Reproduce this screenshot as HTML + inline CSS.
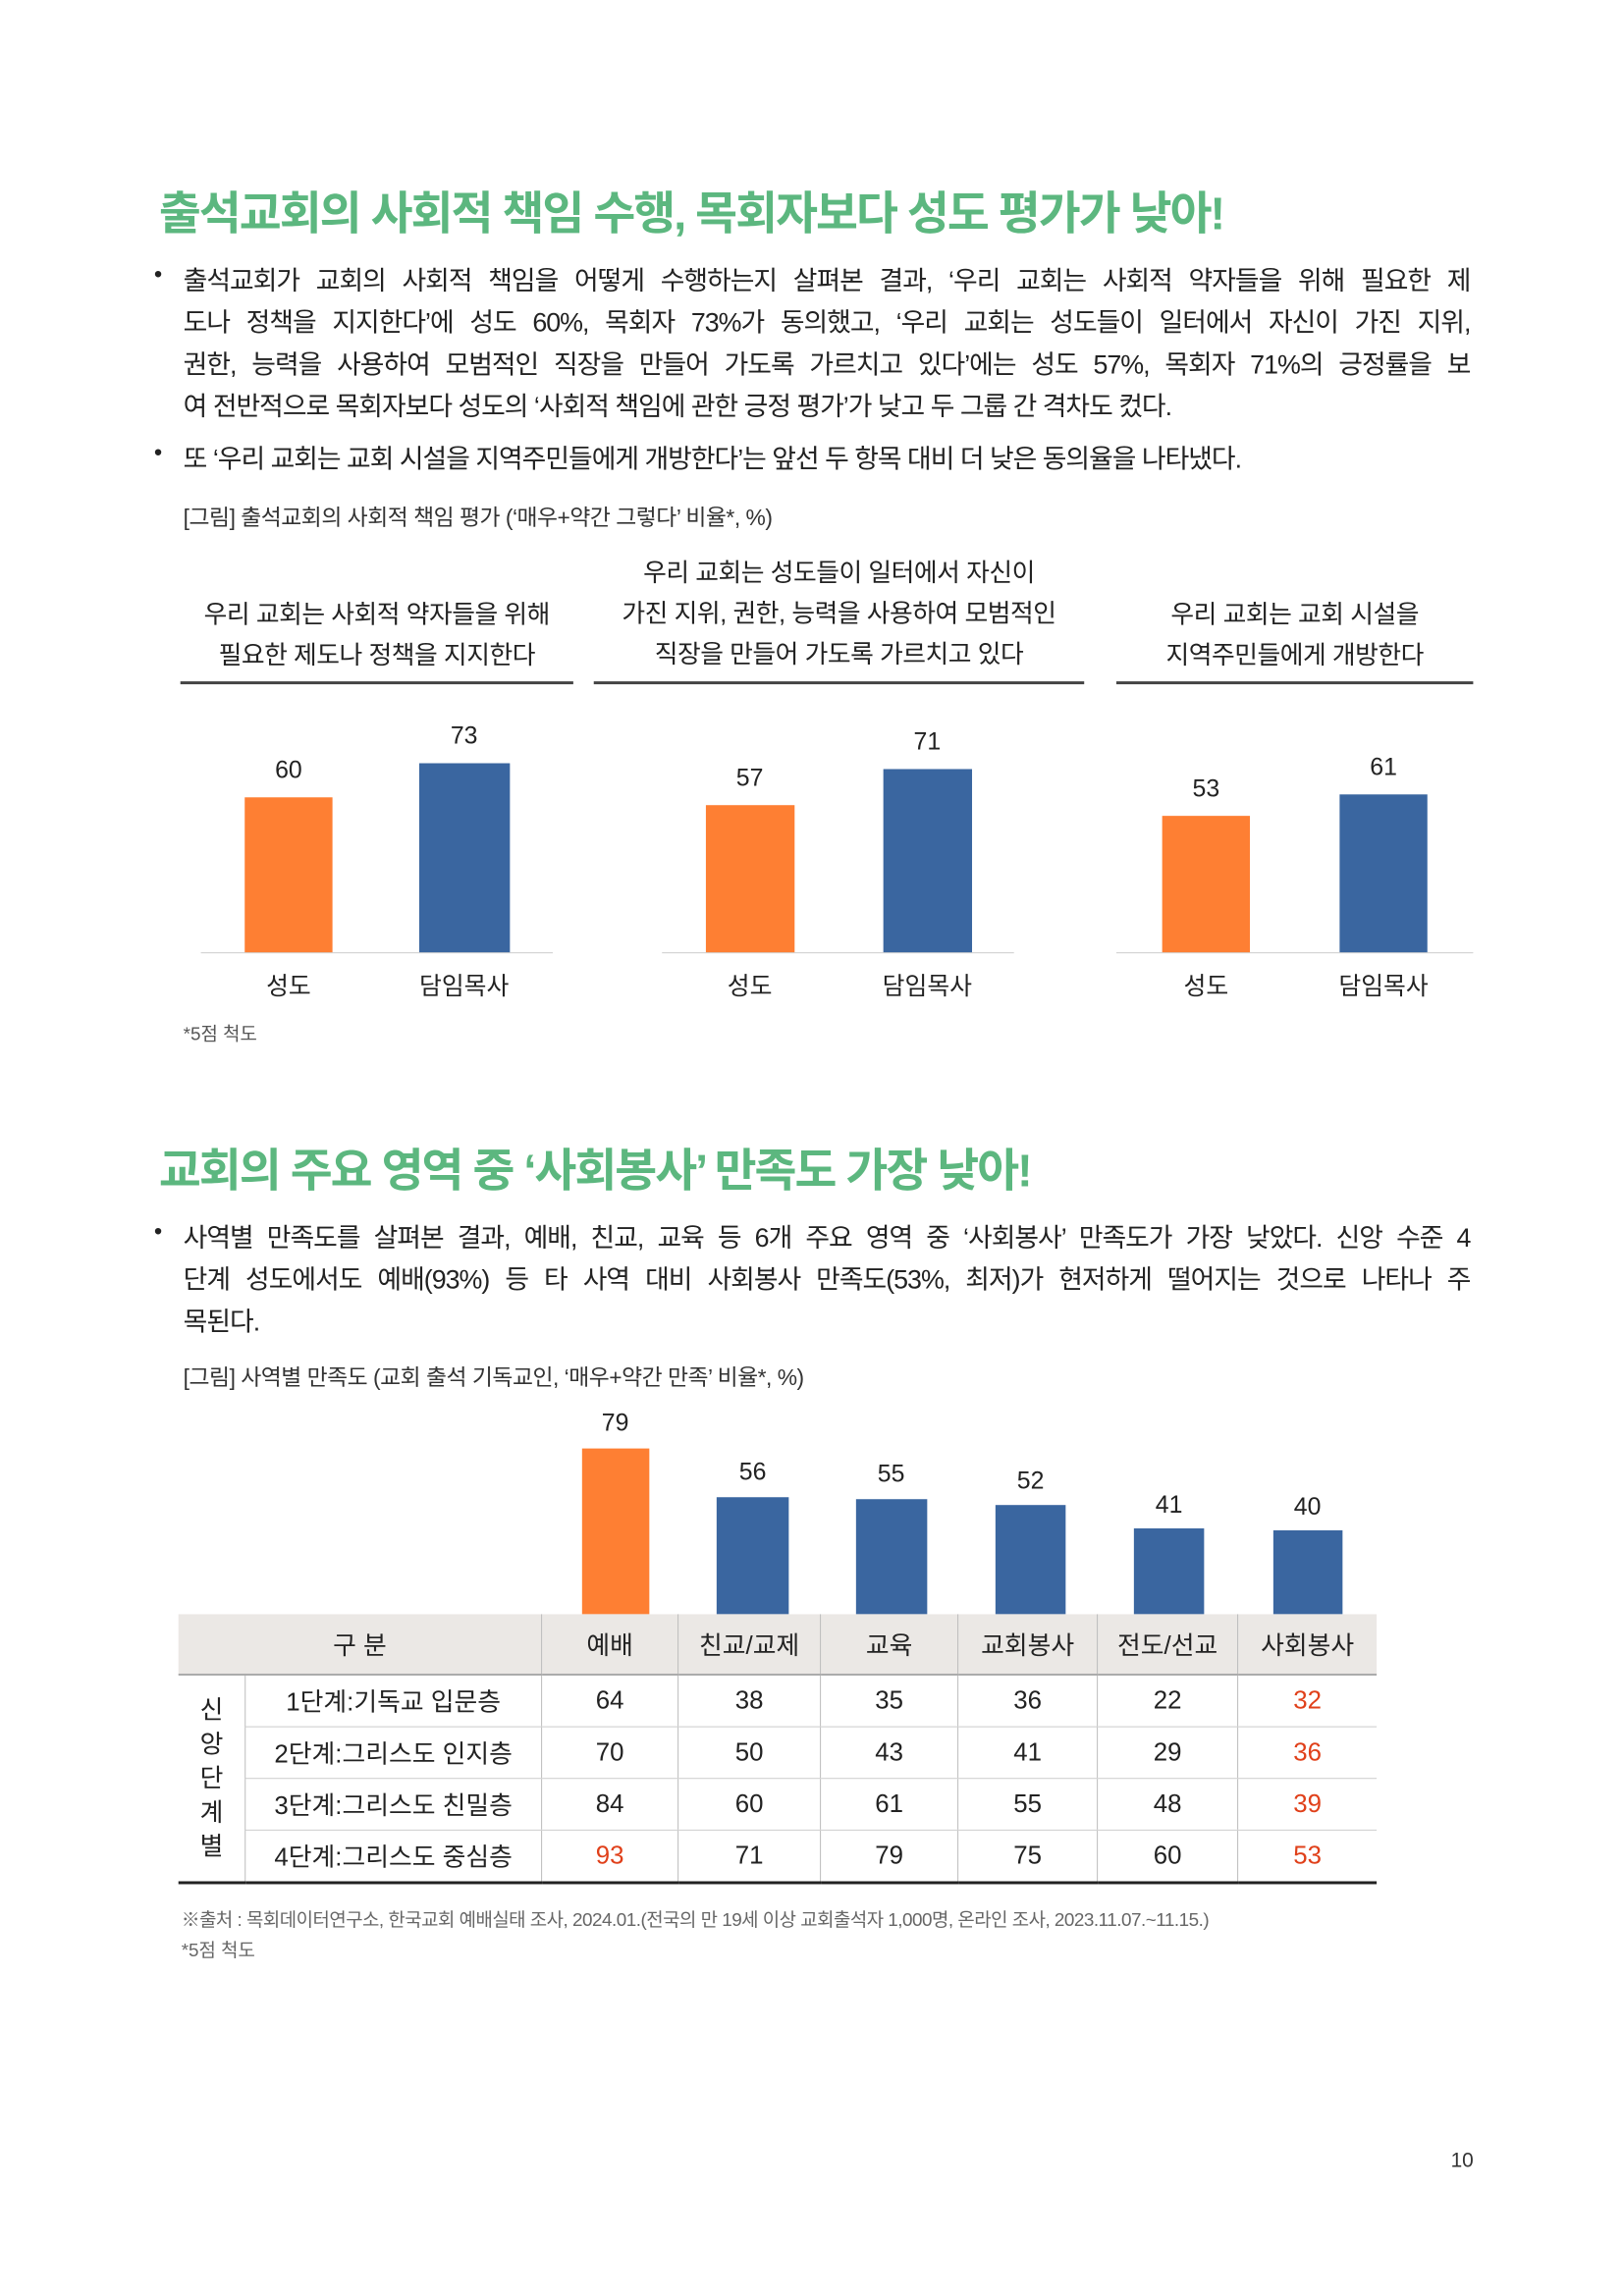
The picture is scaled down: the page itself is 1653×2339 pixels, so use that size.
<!DOCTYPE html>
<html><head><meta charset="utf-8"><style>
body{margin:0;background:#fff;}
#w{width:1653px;height:2339px;overflow:hidden;position:relative;}
#p{position:relative;width:1653px;height:2339px;font-family:"Liberation Sans","Noto Sans CJK KR",sans-serif;color:#222;transform:scale(0.993);transform-origin:0 0;}
.a{position:absolute;white-space:nowrap;}
.t{font-weight:bold;color:#5cb77f;font-size:47px;letter-spacing:-2px;}
.l{font-size:27px;width:1320px;left:188px;text-align:justify;text-align-last:justify;letter-spacing:-1px;}
.l.n{text-align-last:left;}
.bul{font-size:24px;left:158px;}
.cap{font-size:23px;color:#333;left:188px;letter-spacing:-0.5px;}
.h{font-size:26px;text-align:center;line-height:42px;letter-spacing:-0.5px;}
.hl{position:absolute;height:3px;background:#444;}
.bl{position:absolute;height:1px;background:#ccc;}
.bar{position:absolute;}
.o{background:#fe7f33;}.b{background:#3a66a0;}
.v{font-size:25px;text-align:center;width:120px;}
.c{font-size:25px;text-align:center;width:160px;}
table{position:absolute;left:183px;top:1656px;border-collapse:collapse;font-size:26px;}
td{text-align:center;padding:0;border-left:1px solid #bbb;border-bottom:1px solid #ccc;}
tr.hd td{background:#ebe8e5;height:61px;border-bottom:2px solid #aaa;}
.r{color:#e0401a;}
</style></head><body><div id="w"><div id="p">
<div class="a t" style="left:163px;top:180px;">출석교회의 사회적 책임 수행, 목회자보다 성도 평가가 낮아!</div>
<div class="a bul" style="top:268px;">•</div>
<div class="a l" style="top:266px;">출석교회가 교회의 사회적 책임을 어떻게 수행하는지 살펴본 결과, ‘우리 교회는 사회적 약자들을 위해 필요한 제</div>
<div class="a l" style="top:309px;">도나 정책을 지지한다’에 성도 60%, 목회자 73%가 동의했고, ‘우리 교회는 성도들이 일터에서 자신이 가진 지위,</div>
<div class="a l" style="top:352px;">권한, 능력을 사용하여 모범적인 직장을 만들어 가도록 가르치고 있다’에는 성도 57%, 목회자 71%의 긍정률을 보</div>
<div class="a l n" style="top:395px;">여 전반적으로 목회자보다 성도의 ‘사회적 책임에 관한 긍정 평가’가 낮고 두 그룹 간 격차도 컸다.</div>
<div class="a bul" style="top:451px;">•</div>
<div class="a l n" style="top:449px;">또 ‘우리 교회는 교회 시설을 지역주민들에게 개방한다’는 앞선 두 항목 대비 더 낮은 동의율을 나타냈다.</div>
<div class="a cap" style="top:512px;">[그림] 출석교회의 사회적 책임 평가 (‘매우+약간 그렇다’ 비율*, %)</div>

<div class="a h" style="left:185px;width:403px;top:609px;">우리 교회는 사회적 약자들을 위해<br>필요한 제도나 정책을 지지한다</div>
<div class="a h" style="left:609px;width:503px;top:566px;">우리 교회는 성도들이 일터에서 자신이<br>가진 지위, 권한, 능력을 사용하여 모범적인<br>직장을 만들어 가도록 가르치고 있다</div>
<div class="a h" style="left:1145px;width:366px;top:609px;">우리 교회는 교회 시설을<br>지역주민들에게 개방한다</div>
<div class="hl" style="left:185px;width:403px;top:699px;"></div>
<div class="hl" style="left:609px;width:503px;top:699px;"></div>
<div class="hl" style="left:1145px;width:366px;top:699px;"></div>

<div class="bl" style="left:206px;width:361px;top:977px;"></div>
<div class="bl" style="left:679px;width:361px;top:977px;"></div>
<div class="bl" style="left:1145px;width:366px;top:977px;"></div>
<div class="bar o" style="left:251px;width:90px;top:818px;height:159px;"></div>
<div class="bar b" style="left:430px;width:93px;top:783px;height:194px;"></div>
<div class="bar o" style="left:724px;width:91px;top:826px;height:151px;"></div>
<div class="bar b" style="left:906px;width:91px;top:789px;height:188px;"></div>
<div class="bar o" style="left:1192px;width:90px;top:837px;height:140px;"></div>
<div class="bar b" style="left:1374px;width:90px;top:815px;height:162px;"></div>
<div class="a v" style="left:236px;top:776px;">60</div>
<div class="a v" style="left:416px;top:741px;">73</div>
<div class="a v" style="left:709px;top:784px;">57</div>
<div class="a v" style="left:891px;top:747px;">71</div>
<div class="a v" style="left:1177px;top:795px;">53</div>
<div class="a v" style="left:1359px;top:773px;">61</div>
<div class="a c" style="left:216px;top:992px;">성도</div>
<div class="a c" style="left:396px;top:992px;">담임목사</div>
<div class="a c" style="left:689px;top:992px;">성도</div>
<div class="a c" style="left:871px;top:992px;">담임목사</div>
<div class="a c" style="left:1157px;top:992px;">성도</div>
<div class="a c" style="left:1339px;top:992px;">담임목사</div>
<div class="a" style="left:188px;top:1046px;font-size:19px;color:#555;">*5점 척도</div>

<div class="a t" style="left:163px;top:1162px;">교회의 주요 영역 중 ‘사회봉사’ 만족도 가장 낮아!</div>
<div class="a bul" style="top:1250px;">•</div>
<div class="a l" style="top:1248px;">사역별 만족도를 살펴본 결과, 예배, 친교, 교육 등 6개 주요 영역 중 ‘사회봉사’ 만족도가 가장 낮았다. 신앙 수준 4</div>
<div class="a l" style="top:1291px;">단계 성도에서도 예배(93%) 등 타 사역 대비 사회봉사 만족도(53%, 최저)가 현저하게 떨어지는 것으로 나타나 주</div>
<div class="a l n" style="top:1334px;">목된다.</div>
<div class="a cap" style="top:1394px;">[그림] 사역별 만족도 (교회 출석 기독교인, ‘매우+약간 만족’ 비율*, %)</div>

<div class="bar o" style="left:597px;width:69px;top:1486px;height:170px;"></div>
<div class="bar b" style="left:735px;width:74px;top:1536px;height:120px;"></div>
<div class="bar b" style="left:878px;width:73px;top:1538px;height:118px;"></div>
<div class="bar b" style="left:1021px;width:72px;top:1544px;height:112px;"></div>
<div class="bar b" style="left:1163px;width:72px;top:1568px;height:88px;"></div>
<div class="bar b" style="left:1306px;width:71px;top:1570px;height:86px;"></div>
<div class="a v" style="left:571px;top:1446px;">79</div>
<div class="a v" style="left:712px;top:1496px;">56</div>
<div class="a v" style="left:854px;top:1498px;">55</div>
<div class="a v" style="left:997px;top:1505px;">52</div>
<div class="a v" style="left:1139px;top:1530px;">41</div>
<div class="a v" style="left:1281px;top:1532px;">40</div>

<table>
<tr class="hd"><td colspan="2" style="width:372px;border-left:none;">구 분</td><td style="width:139px;">예배</td><td style="width:145px;">친교/교제</td><td style="width:140px;">교육</td><td style="width:142px;">교회봉사</td><td style="width:143px;">전도/선교</td><td style="width:142px;">사회봉사</td></tr>
<tr style="height:53px;"><td rowspan="4" style="width:68px;border-left:none;border-bottom:3px solid #222;line-height:35px;">신<br>앙<br>단<br>계<br>별</td><td>1단계:기독교 입문층</td><td>64</td><td>38</td><td>35</td><td>36</td><td>22</td><td class="r">32</td></tr>
<tr style="height:53px;"><td>2단계:그리스도 인지층</td><td>70</td><td>50</td><td>43</td><td>41</td><td>29</td><td class="r">36</td></tr>
<tr style="height:53px;"><td>3단계:그리스도 친밀층</td><td>84</td><td>60</td><td>61</td><td>55</td><td>48</td><td class="r">39</td></tr>
<tr style="height:54px;"><td style="border-bottom:3px solid #222;">4단계:그리스도 중심층</td><td class="r" style="border-bottom:3px solid #222;">93</td><td style="border-bottom:3px solid #222;">71</td><td style="border-bottom:3px solid #222;">79</td><td style="border-bottom:3px solid #222;">75</td><td style="border-bottom:3px solid #222;">60</td><td class="r" style="border-bottom:3px solid #222;">53</td></tr>
</table>

<div class="a" style="left:186px;top:1955px;font-size:19px;color:#666;letter-spacing:-0.5px;">※출처 : 목회데이터연구소, 한국교회 예배실태 조사, 2024.01.(전국의 만 19세 이상 교회출석자 1,000명, 온라인 조사, 2023.11.07.~11.15.)</div>
<div class="a" style="left:186px;top:1986px;font-size:19px;color:#666;">*5점 척도</div>
<div class="a" style="left:1488px;top:2205px;font-size:21px;color:#333;">10</div>
</div></div></body></html>
